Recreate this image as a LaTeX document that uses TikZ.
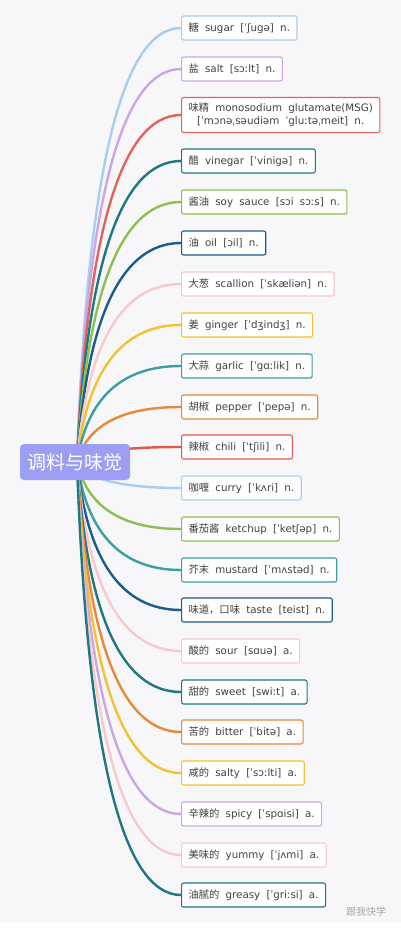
\documentclass[tikz,border=0pt]{standalone}
\usepackage{fontspec}
\setmainfont{DejaVu Sans}[WordSpace=1.9]
\newfontfamily\cjk{Noto Sans CJK SC}
\usetikzlibrary{calc}

\definecolor{paper}{HTML}{F7F7F9}
\definecolor{rootc}{HTML}{9C9EF3}
\definecolor{skyblue}{HTML}{A9CDEE}
\definecolor{lilac}{HTML}{CBA6E6}
\definecolor{brick}{HTML}{E0645A}
\definecolor{deepteal}{HTML}{1F7880}
\definecolor{leafgreen}{HTML}{8DBF50}
\definecolor{navy}{HTML}{195D8C}
\definecolor{blush}{HTML}{F7C9CB}
\definecolor{mustardc}{HTML}{F2C230}
\definecolor{midteal}{HTML}{3A9EA4}
\definecolor{tangerine}{HTML}{E6893A}
\definecolor{chilired}{HTML}{E2574C}

\tikzset{
  leaf/.style={draw, fill=white, rounded corners=2pt, line width=1.1pt,
    anchor=west, inner xsep=7pt, minimum height=24pt, text=black!75,
    font=\fontsize{10.3}{13}\selectfont},
  twig/.style={line width=2.4pt},
}
% quadratic curve from the hub to the west side of a leaf
\newcommand{\Twig}[2]{\draw[twig, #1] (hub) .. controls ($(hub)!.667!(bend |- #2.west)$)
  and ($(#2.west)!.667!(bend |- #2.west)$) .. (#2.west);}

\begin{document}
\begin{tikzpicture}[x=1pt,y=-1pt]
\useasboundingbox (0,0) rectangle (401,931);
\fill[paper] (0,0) rectangle (401,923);
%\draw[help lines] (0,0) grid[step=50] (401,931);
\coordinate (hub) at (77,462);
\coordinate (bend) at (92,462);

\node[leaf, draw=skyblue] (sugar) at (181,28) {{\cjk 糖} sugar [ˈʃugə] n.};
\node[leaf, draw=lilac] (salt) at (181,69) {{\cjk 盐} salt [sɔːlt] n.};
\node[leaf, draw=brick, align=center, minimum height=35pt] (msg) at (181,115)
  {{\cjk 味精} monosodium glutamate(MSG)\\{}[ˈmɔnəˌsəudiəm ˈgluːtəˌmeit] n.};
\node[leaf, draw=deepteal] (vinegar) at (181,161) {{\cjk 醋} vinegar [ˈvinigə] n.};
\node[leaf, draw=leafgreen] (soysauce) at (181,202) {{\cjk 酱油} soy sauce [sɔi sɔːs] n.};
\node[leaf, draw=navy] (oil) at (181,243) {{\cjk 油} oil [ɔil] n.};
\node[leaf, draw=blush] (scallion) at (181,284) {{\cjk 大葱} scallion [ˈskæliən] n.};
\node[leaf, draw=mustardc] (ginger) at (181,325) {{\cjk 姜} ginger [ˈdʒindʒ] n.};
\node[leaf, draw=midteal] (garlic) at (181,366) {{\cjk 大蒜} garlic [ˈgɑːlik] n.};
\node[leaf, draw=tangerine] (pepper) at (181,407) {{\cjk 胡椒} pepper [ˈpepə] n.};
\node[leaf, draw=chilired] (chili) at (181,447) {{\cjk 辣椒} chili [ˈtʃili] n.};
\node[leaf, draw=skyblue] (curry) at (181,488) {{\cjk 咖喱} curry [ˈkʌri] n.};
\node[leaf, draw=leafgreen] (ketchup) at (181,529) {{\cjk 番茄酱} ketchup [ˈketʃəp] n.};
\node[leaf, draw=midteal] (mustard) at (181,570) {{\cjk 芥末} mustard [ˈmʌstəd] n.};
\node[leaf, draw=navy] (taste) at (181,610) {{\cjk 味道，口味} taste [teist] n.};
\node[leaf, draw=blush] (sour) at (181,651) {{\cjk 酸的} sour [sɑuə] a.};
\node[leaf, draw=deepteal] (sweet) at (181,692) {{\cjk 甜的} sweet [swiːt] a.};
\node[leaf, draw=tangerine] (bitter) at (181,732) {{\cjk 苦的} bitter [ˈbitə] a.};
\node[leaf, draw=mustardc] (salty) at (181,773) {{\cjk 咸的} salty [ˈsɔːlti] a.};
\node[leaf, draw=lilac] (spicy) at (181,814) {{\cjk 辛辣的} spicy [ˈspɑisi] a.};
\node[leaf, draw=blush] (yummy) at (181,855) {{\cjk 美味的} yummy [ˈjʌmi] a.};
\node[leaf, draw=deepteal] (greasy) at (181,895) {{\cjk 油腻的} greasy [ˈgriːsi] a.};

\Twig{skyblue}{sugar}
\Twig{lilac}{salt}
\Twig{brick}{msg}
\Twig{deepteal}{vinegar}
\Twig{leafgreen}{soysauce}
\Twig{navy}{oil}
\Twig{blush}{scallion}
\Twig{mustardc}{ginger}
\Twig{midteal}{garlic}
\Twig{tangerine}{pepper}
\Twig{chilired}{chili}
\Twig{skyblue}{curry}
\Twig{leafgreen}{ketchup}
\Twig{midteal}{mustard}
\Twig{navy}{taste}
\Twig{blush}{sour}
\Twig{deepteal}{sweet}
\Twig{tangerine}{bitter}
\Twig{mustardc}{salty}
\Twig{lilac}{spicy}
\Twig{blush}{yummy}
\Twig{deepteal}{greasy}

\node[fill=rootc, rounded corners=4pt, text=white, font=\cjk\fontsize{19}{19}\selectfont,
  minimum width=110pt, minimum height=36pt] (theme) at (75,462) {调料与味觉};
\node[text=black!35, font=\cjk\fontsize{10}{10}\selectfont] (mark) at (366,912) {跟我快学};
\end{tikzpicture}
\end{document}
